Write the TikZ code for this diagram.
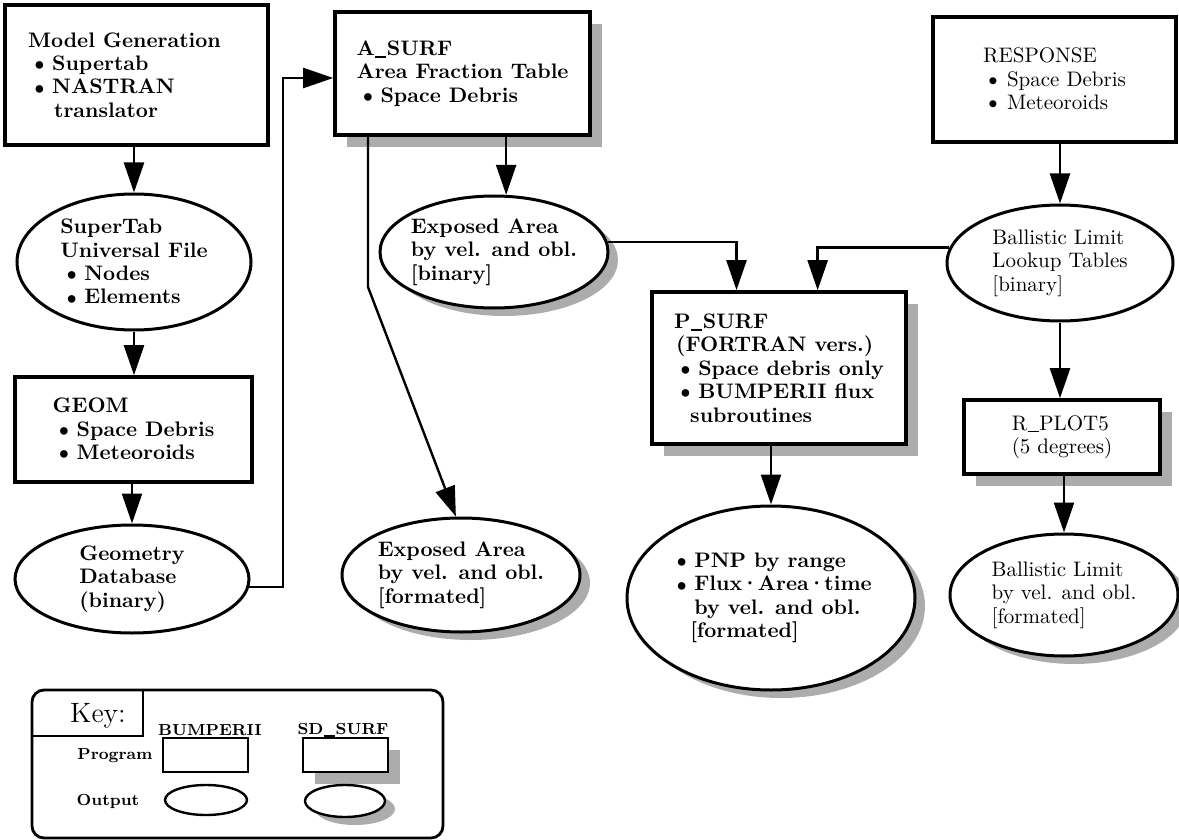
\documentclass[tikz,border=0pt]{standalone}
\usepackage{fontspec}
\usetikzlibrary{shapes.geometric,arrows.meta,shadows,calc}
\newcommand{\bul}[1][12pt]{\makebox[#1][l]{\raisebox{-0.6pt}{\fontsize{13}{13}\selectfont\textbullet}}}
\newcommand{\us}{\kern0.3pt\rule[-1.2pt]{5.5pt}{0.7pt}\kern0.3pt}
\newcommand{\md}{\kern-0.8pt·\kern-0.8pt}

\begin{document}
\begin{tikzpicture}[x=0.5pt,y=-0.5pt]
				\tikzstyle{every node}=[font=\fontsize{10.5}{11.7}\selectfont\bfseries, align=left, inner sep=0pt]
				\tikzstyle{progbox}=[rectangle, draw, line width=1.8pt, fill=white]
				\tikzstyle{outell}=[ellipse, draw, line width=1.5pt, fill=white, inner sep=-3pt]
				\tikzstyle{sdbox}=[progbox, drop shadow={shadow xshift=6pt, shadow yshift=-6pt, fill=gray!65, opacity=1}]
				\tikzstyle{sdell}=[outell, drop shadow={shadow xshift=5pt, shadow yshift=-4pt, fill=gray!65, opacity=1}]
				\tikzstyle{lite}=[font=\fontsize{10.5}{11.7}\selectfont]
				\tikzstyle{keytxt}=[font=\fontsize{8}{9}\selectfont\bfseries]
				\tikzstyle{flow}=[line width=1.2pt, -{Triangle[length=15pt,width=10pt]}]
				\useasboundingbox (0,0) rectangle (1179,840);
				% left column
				\node[progbox, minimum width=131.5pt, minimum height=70pt] (mg) at (136.5,75) {Model Generation\hspace*{12pt}\\ \bul Supertab\\ \bul NASTRAN\\ \hspace{13pt}translator};
				\node[outell, minimum width=117pt, minimum height=68pt] (st) at (134,262) {SuperTab\\ Universal File\\ \bul Nodes\\ \bul Elements};
				\node[progbox, minimum width=118.5pt, minimum height=52.5pt] (geom) at (133.5,429.5) {GEOM\\ \bul Space Debris\\ \bul Meteoroids};
				\node[outell, minimum width=117pt, minimum height=54pt] (gdb) at (132,579) {Geometry\\ Database\\ (binary)};
				% A_SURF column
				\node[sdbox, minimum width=127.5pt, minimum height=61.5pt] (asurf) at (462.5,73.5) {A\us SURF\\ Area Fraction Table\\ \bul Space Debris};
				\node[sdell, minimum width=114pt, minimum height=56pt] (eab) at (494,252) {Exposed Area\\ by vel. and obl.\\ {[binary]}};
				\node[sdell, minimum width=119pt, minimum height=57pt] (eaf) at (461,575) {Exposed Area\\ by vel. and obl.\\ {[formated]}};
				% P_SURF column
				\node[sdbox, minimum width=127pt, minimum height=76pt] (psurf) at (779,368) {P\us SURF\\ \hspace{1pt}(FORTRAN vers.)\\ \bul[8pt] Space debris only\\ \bul[8pt] BUMPERII flux\\ \hspace{8pt}subroutines};
				\node[sdell, minimum width=144pt, minimum height=92pt] (pnp) at (771,598) {\bul PNP by range\\ \bul Flux\md Area\md time\\ \hspace{12pt}by vel. and obl.\\ \hspace{10pt}{[formated]}};
				% RESPONSE column
				\node[progbox, lite, minimum width=121.5pt, minimum height=62.5pt] (resp) at (1054.5,79.5) {RESPONSE\\ \bul[8.5pt] Space Debris\\ \bul[8.5pt] Meteoroids};
				\node[outell, lite, minimum width=113pt, minimum height=58pt] (bll) at (1060,263) {Ballistic Limit\\ Lookup Tables\\ {[binary]}};
				\node[sdbox, lite, minimum width=98pt, minimum height=37pt] (rplot) at (1062,437) {R\us PLOT5\\ (5 degrees)};
				\node[sdell, lite, minimum width=114pt, minimum height=61pt] (blf) at (1064,595) {Ballistic Limit\\ by vel. and obl.\\ {[formated]}};
				% connectors
				\coordinate (c1) at (283,78);
				\coordinate (c2) at (368,287);
				\draw[flow] (st.north |- mg.south) -- (st.north);
				\draw[flow] (st.south) -- (st.south |- geom.north);
				\draw[flow] (gdb.north |- geom.south) -- (gdb.north);
				\draw[flow] (gdb.-4) -| (c1) -- (c1 -| asurf.west);
				\draw[flow] (eab.78 |- asurf.south) -- (eab.78);
				\draw[flow] (c2 |- asurf.south) -- (c2) -- (eaf.95);
				\draw[flow] (eab.5) -| ($(psurf.north west)!0.335!(psurf.north east)$);
				\draw[flow] (bll.172) -| ($(psurf.north west)!0.65!(psurf.north east)$);
				\draw[flow] (pnp.north |- psurf.south) -- (pnp.north);
				\draw[flow] (bll.north |- resp.south) -- (bll.north);
				\draw[flow] (bll.south) -- (bll.south |- rplot.north);
				\draw[flow] (blf.north |- rplot.south) -- (blf.north);
				% key
				\node[draw, rounded corners=6pt, line width=1.4pt, minimum width=205.5pt, minimum height=74pt] (keybox) at (237.5,764) {};
				\coordinate (kc) at (143,736);
				\draw[line width=1.2pt] (kc |- keybox.north) -- (kc) -- (kc -| keybox.west);
				\node[font=\fontsize{14}{16}\selectfont] (keylbl) at (98,716) {Key:};
				\node[keytxt] (kbump) at (210,730) {BUMPERII};
				\node[keytxt] (ksd) at (343,730) {SD\us SURF};
				\node[keytxt] (kprog) at (115,756) {Program};
				\node[keytxt] (kout) at (108,801) {Output};
				\node[progbox, line width=1.4pt, minimum width=42.5pt, minimum height=17pt] (kp1) at (205.5,755) {};
				\node[sdbox, line width=1.4pt, minimum width=42.5pt, minimum height=17pt] (kp2) at (345.5,755) {};
				\node[outell, line width=1.2pt, minimum width=41pt, minimum height=15pt] (ko1) at (206,800) {};
				\node[sdell, line width=1.2pt, minimum width=40pt, minimum height=16pt] (ko2) at (345,801) {};
			\end{tikzpicture}
\end{document}
